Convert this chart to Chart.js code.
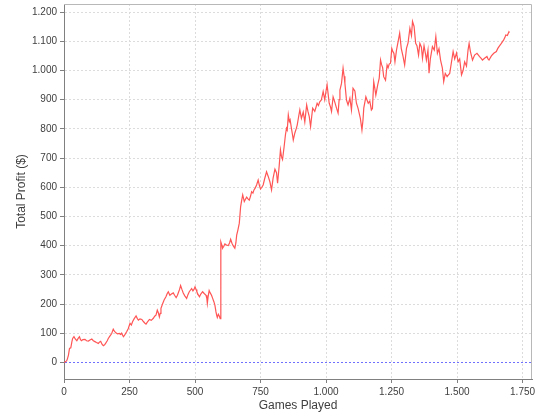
<!DOCTYPE html>
<html>
<head>
<meta charset="utf-8">
<script src="https://cdn.jsdelivr.net/npm/chart.js@4"></script>
<style>
html,body{margin:0;padding:0;background:#fff;}
#wrap{width:540px;height:420px;}
</style>
</head>
<body>
<div id="wrap"><canvas id="c" width="540" height="420"></canvas></div>
<script>
const games = [0,5,10,13,17,21,26,30,33,38,43,49,54,59,63,67,72,80,86,93,99,106,112,118,124,131,136,140,145,150,155,160,165,169,175,182,188,193,198,204,211,216,220,224,227,233,239,245,252,257,262,268,275,280,284,290,297,303,308,313,318,326,333,341,346,351,356,360,364,367,370,376,382,389,394,398,404,410,417,422,428,433,437,441,445,450,455,461,468,473,478,483,487,492,496,500,504,507,512,517,522,529,535,542,545,547,550,554,558,563,567,572,576,580,583,585,589,593,596,598,599,603,605,610,614,620,627,632,636,641,646,652,656,659,664,669,674,678,682,688,693,697,702,707,712,716,721,725,730,735,741,746,750,755,760,766,773,779,786,792,798,805,811,815,821,826,830,834,840,845,849,852,856,860,863,868,872,875,881,886,890,895,900,906,913,919,926,931,936,941,945,949,957,962,966,971,976,982,989,995,1000,1004,1008,1012,1017,1021,1027,1034,1040,1046,1050,1053,1059,1065,1069,1072,1078,1084,1091,1097,1103,1110,1116,1122,1131,1137,1141,1144,1152,1156,1161,1167,1173,1177,1182,1186,1190,1197,1203,1208,1212,1216,1220,1227,1233,1237,1241,1246,1251,1255,1259,1263,1269,1275,1281,1287,1294,1300,1307,1313,1320,1326,1330,1336,1342,1347,1353,1358,1364,1368,1374,1379,1383,1389,1393,1398,1406,1413,1419,1425,1431,1437,1444,1449,1455,1462,1467,1472,1478,1485,1491,1498,1504,1510,1517,1523,1529,1536,1542,1546,1551,1559,1567,1576,1586,1592,1597,1605,1614,1618,1622,1631,1640,1650,1655,1660,1669,1678,1682,1686,1692,1698,1700];
const profit = [0,2,5,12,25,48,50,70,82,88,80,74,82,88,78,74,78,79,74,73,77,80,74,71,68,65,70,72,62,57,60,67,74,82,90,99,114,106,101,98,99,96,100,92,88,96,105,115,134,128,140,150,159,150,145,149,147,140,135,131,138,147,144,151,158,162,179,170,156,168,185,200,214,225,236,242,230,234,238,230,222,230,240,250,263,250,238,228,219,232,242,248,253,245,250,259,250,242,232,225,234,242,236,230,220,202,225,246,238,230,220,208,195,173,160,154,165,158,150,150,413,400,391,398,406,402,400,410,422,408,399,391,410,436,455,477,533,555,574,551,560,566,560,556,570,585,580,591,598,608,625,605,594,600,608,630,653,638,618,591,631,662,650,614,671,728,705,695,739,779,802,796,848,825,831,802,780,762,786,800,813,840,865,836,858,824,882,860,842,808,840,871,860,875,888,880,893,899,928,900,930,951,920,888,875,860,910,890,871,854,900,933,956,1008,980,956,899,882,905,865,939,930,888,871,836,796,830,871,910,900,888,895,865,870,962,940,916,950,974,1036,1020,1010,979,967,1019,1010,1022,1025,1076,1065,1059,1030,1071,1099,1128,1076,1048,1019,1076,1095,1145,1120,1168,1151,1093,1085,1053,1093,1080,1042,1085,1060,1036,1070,991,1040,1082,1070,1116,1059,1075,1036,1008,962,990,979,985,990,1025,1065,1040,1060,1030,1040,985,1000,1030,1015,1071,1093,1065,1036,1053,1059,1048,1042,1036,1042,1048,1040,1036,1050,1059,1065,1075,1082,1093,1105,1112,1122,1120,1133,1130];
const xTicks = [0,250,500,750,1000,1250,1500,1750];
const yTicks = [0,100,200,300,400,500,600,700,800,900,1000,1100,1200];
const xTitle = 'Games Played';
const yTitle = 'Total Profit ($)';

const fmt = v => String(v).replace(/\B(?=(\d{3})+(?!\d))/g, '.');

const outline = {
  id: 'outline',
  afterDatasetsDraw(chart) {
    const a = chart.chartArea, ctx = chart.ctx;
    ctx.save();
    ctx.strokeStyle = '#b8b8b8';
    ctx.lineWidth = 1;
    ctx.beginPath();
    ctx.moveTo(a.left, a.top + 0.5);
    ctx.lineTo(a.right - 0.5, a.top + 0.5);
    ctx.lineTo(a.right - 0.5, a.bottom);
    ctx.stroke();
    ctx.restore();
  }
};

new Chart(document.getElementById('c'), {
  type: 'line',
  data: {
    datasets: [{
      data: games.map((g, i) => ({x: g, y: profit[i]})),
      borderColor: '#ff5555',
      borderWidth: 1.2,
      pointRadius: 0,
      tension: 0,
      fill: false
    }]
  },
  options: {
    responsive: false,
    animation: false,
    events: [],
    layout: {padding: {top: 4, right: 8, left: 0, bottom: 0}},
    plugins: {legend: {display: false}, tooltip: {enabled: false}},
    scales: {
      x: {
        type: 'linear',
        min: 0,
        max: 1786,
        afterBuildTicks: s => { s.ticks = xTicks.map(v => ({value: v})); },
        afterFit: s => { s.height = 41; s.paddingLeft = 0; s.paddingRight = 0; },
        grid: {
          color: '#dcdcdc',
          lineWidth: 1,
          drawTicks: true,
          tickLength: 4,
          tickColor: '#808080',
          tickBorderDash: []
        },
        border: {display: true, color: '#808080', width: 1, dash: [2, 2]},
        ticks: {
          color: '#404040',
          padding: 3,
          maxRotation: 0,
          autoSkip: false,
          font: {family: 'Liberation Sans', size: 10},
          callback: v => fmt(v)
        },
        title: {
          display: true,
          text: xTitle,
          color: '#404040',
          font: {family: 'Liberation Sans', size: 12},
          padding: {top: 0, bottom: 7}
        }
      },
      y: {
        type: 'linear',
        min: -57,
        max: 1228,
        afterBuildTicks: s => { s.ticks = yTicks.map(v => ({value: v})); },
        afterFit: s => { s.width = 64; s.paddingTop = 0; s.paddingBottom = 0; },
        grid: {
          color: ctx => (ctx.tick && ctx.tick.value === 0) ? '#7070ff' : '#dcdcdc',
          lineWidth: 1,
          drawTicks: true,
          tickLength: 4,
          tickColor: '#808080',
          tickBorderDash: []
        },
        border: {display: true, color: '#808080', width: 1, dash: [2, 2]},
        ticks: {
          color: '#404040',
          padding: 3,
          autoSkip: false,
          font: {family: 'Liberation Sans', size: 10},
          callback: v => fmt(v)
        },
        title: {
          display: true,
          text: yTitle,
          color: '#404040',
          font: {family: 'Liberation Sans', size: 12},
          padding: {top: 14, bottom: 0}
        }
      }
    }
  },
  plugins: [outline]
});
</script>
</body>
</html>
